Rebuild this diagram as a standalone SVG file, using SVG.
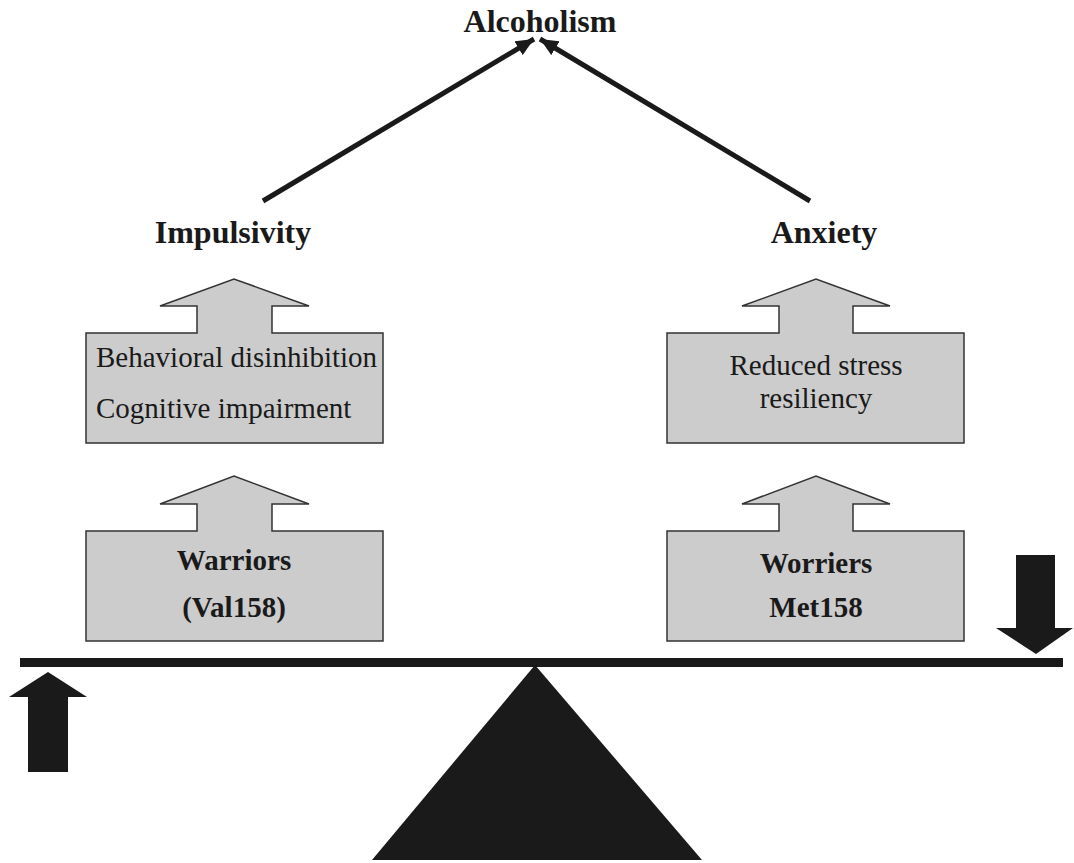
<svg xmlns="http://www.w3.org/2000/svg" width="1074" height="863" viewBox="0 0 1074 863">
<style>
.lbl{font-family:"Liberation Serif","Times New Roman",serif;font-weight:bold;font-size:32px;fill:#1a1a1a;text-anchor:middle}
.bt{font-family:"Liberation Serif","Times New Roman",serif;font-size:29px;fill:#1a1a1a}
.bb{font-family:"Liberation Serif","Times New Roman",serif;font-weight:bold;font-size:29px;fill:#1a1a1a;text-anchor:middle}
.box{fill:#cccccc;stroke:#333333;stroke-width:1.5}
.blk{fill:#1a1a1a}
.con{stroke:#1a1a1a;stroke-width:5;fill:none}
</style>
<defs>
<marker id="ah" markerUnits="userSpaceOnUse" markerWidth="20" markerHeight="16" refX="18" refY="8" orient="auto">
<path d="M0,0 L18,8 L0,16 Z" fill="#1a1a1a"/>
</marker>
</defs>
<rect width="1074" height="863" fill="#ffffff"/>
<g id="alcoholism"><text class="lbl" x="540" y="32">Alcoholism</text></g>
<g id="impulsivity"><text class="lbl" x="233" y="243">Impulsivity</text></g>
<g id="anxiety"><text class="lbl" x="824" y="243">Anxiety</text></g>
<g id="connectors">
<line class="con" x1="263" y1="201" x2="534" y2="39" marker-end="url(#ah)"/>
<line class="con" x1="810" y1="201" x2="540" y2="39" marker-end="url(#ah)"/>
</g>
<g id="behavioral">
<path class="box" d="M86,333 H197 V306 H160 L234,279 L309,306 H272 V333 H383 V443 H86 Z"/>
<text class="bt" x="96" y="367">Behavioral disinhibition</text>
<text class="bt" x="96" y="418">Cognitive impairment</text>
</g>
<g id="warriors">
<path class="box" d="M86,531 H197 V504 H160 L234,476 L309,504 H272 V531 H383 V641 H86 Z"/>
<text class="bb" x="234" y="570">Warriors</text>
<text class="bb" x="234" y="617">(Val158)</text>
</g>
<g id="stress">
<path class="box" d="M667,333 H779 V306 H742 L816,279 L890,306 H853 V333 H964 V443 H667 Z"/>
<text class="bt" x="816" y="375" text-anchor="middle">Reduced stress</text>
<text class="bt" x="816" y="408" text-anchor="middle">resiliency</text>
</g>
<g id="worriers">
<path class="box" d="M667,531 H779 V504 H742 L816,476 L890,504 H853 V531 H964 V641 H667 Z"/>
<text class="bb" x="816" y="573">Worriers</text>
<text class="bb" x="816" y="617">Met158</text>
</g>
<g id="seesaw">
<rect class="blk" x="20" y="658" width="1043" height="9"/>
<polygon class="blk" points="535,665 702,860 372,860"/>
<polygon class="blk" points="1016,555 1055,555 1055,628 1073,628 1036,654 996,628 1016,628"/>
<polygon class="blk" points="48,672 87,697 68,697 68,772 28,772 28,697 9,697"/>
</g>
</svg>
